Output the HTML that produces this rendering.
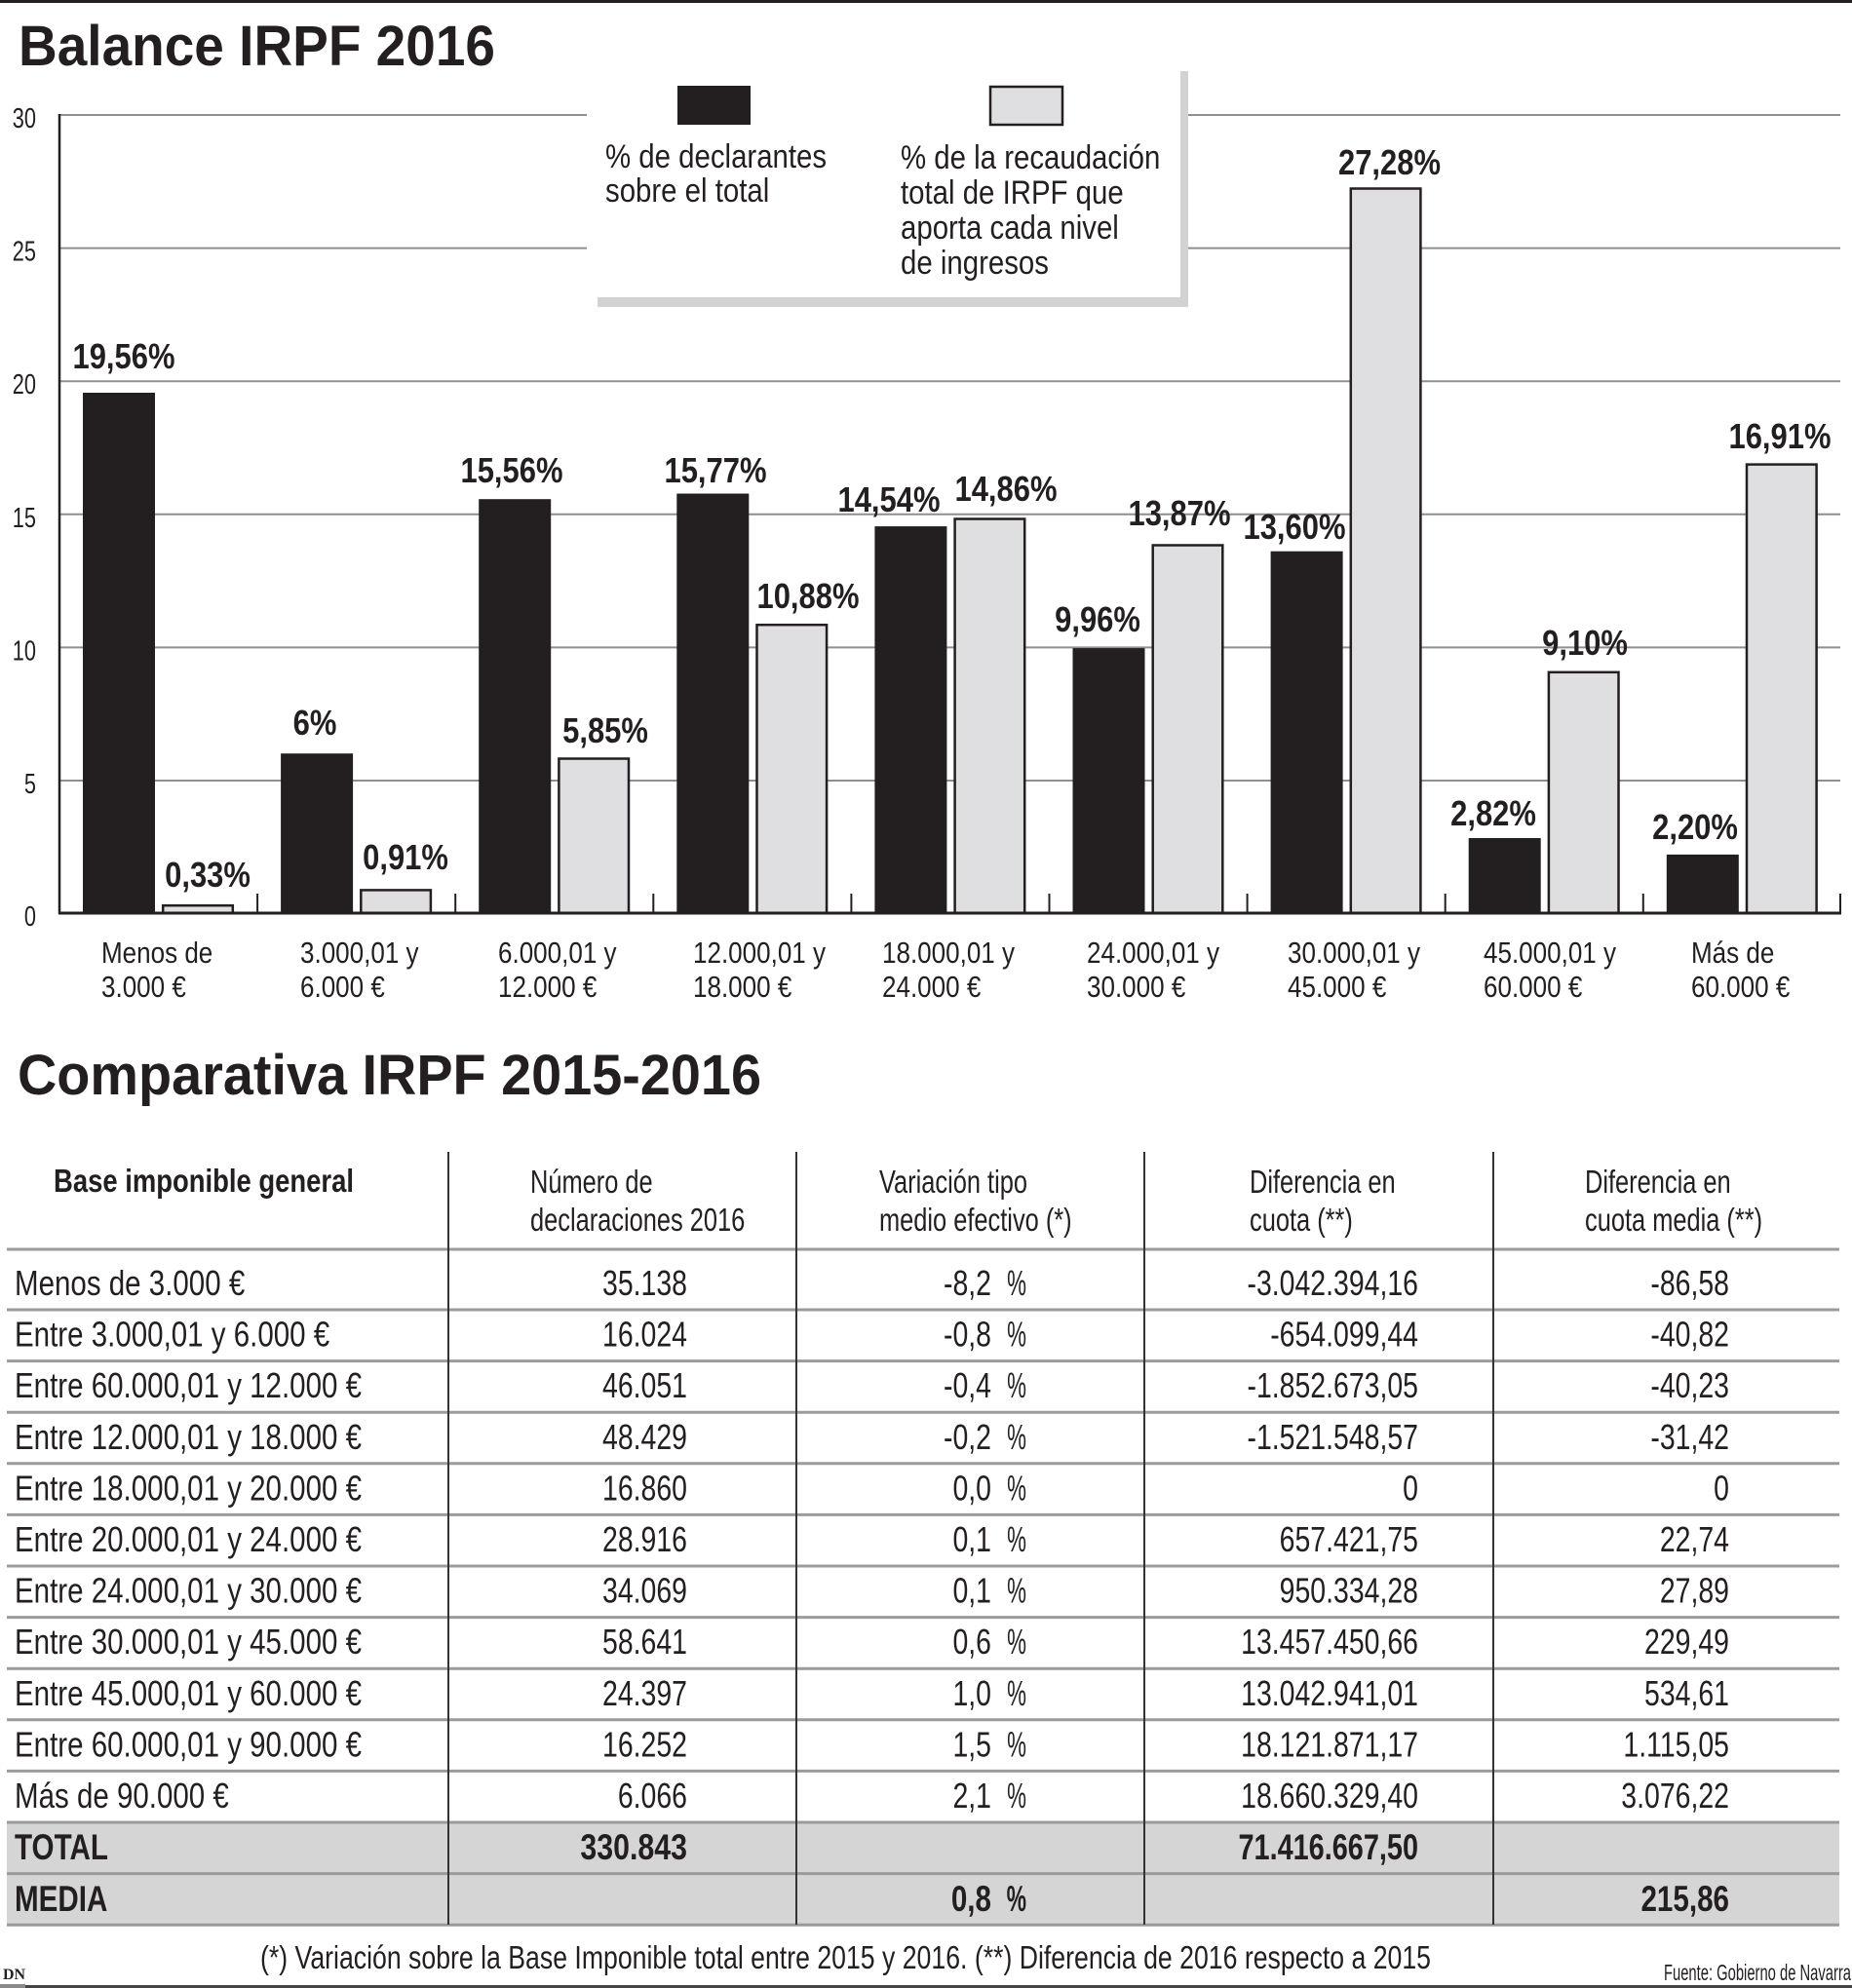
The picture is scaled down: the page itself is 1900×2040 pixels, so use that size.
<!DOCTYPE html>
<html>
<head>
<meta charset="utf-8">
<style>
html,body{margin:0;padding:0;background:#fff;}
svg{display:block;}
text{font-family:"Liberation Sans",sans-serif;fill:#231f20;}
.b{font-weight:bold;}
</style>
</head>
<body>
<svg width="1900" height="2040" viewBox="0 0 1900 2040" xmlns="http://www.w3.org/2000/svg">
<rect x="0" y="0" width="1900" height="2040" fill="#fff"/>
<rect x="0" y="0" width="1900" height="3" fill="#231f20"/>

<!-- Title 1 -->
<text class="b" x="19" y="67" font-size="58" textLength="489" lengthAdjust="spacingAndGlyphs">Balance IRPF 2016</text>

<!-- gridlines -->
<g stroke="#8f8f8f" stroke-width="2">
<line x1="61" y1="118" x2="1888" y2="118"/>
<line x1="61" y1="254.6" x2="1888" y2="254.6"/>
<line x1="61" y1="391.2" x2="1888" y2="391.2"/>
<line x1="61" y1="527.8" x2="1888" y2="527.8"/>
<line x1="61" y1="664.4" x2="1888" y2="664.4"/>
<line x1="61" y1="801" x2="1888" y2="801"/>
</g>

<!-- y tick labels -->
<g font-size="29" text-anchor="end">
<text transform="translate(37 131) scale(0.75 1)">30</text>
<text transform="translate(37 267.6) scale(0.75 1)">25</text>
<text transform="translate(37 404.2) scale(0.75 1)">20</text>
<text transform="translate(37 540.8) scale(0.75 1)">15</text>
<text transform="translate(37 677.4) scale(0.75 1)">10</text>
<text transform="translate(37 814) scale(0.75 1)">5</text>
<text transform="translate(37 950) scale(0.75 1)">0</text>
</g>

<!-- legend -->
<rect x="613" y="73" width="606" height="242" fill="#d2d2d3"/>
<rect x="602" y="62" width="609" height="243" fill="#fff"/>
<rect x="695" y="88" width="75" height="40" fill="#231f20"/>
<rect x="1016" y="89" width="74" height="39" fill="#dfdfe1" stroke="#231f20" stroke-width="2.5"/>
<g font-size="34">
<text transform="translate(621 172) scale(0.865 1)">% de declarantes</text>
<text transform="translate(621 207) scale(0.865 1)">sobre el total</text>
<text transform="translate(924 173) scale(0.865 1)">% de la recaudación</text>
<text transform="translate(924 209) scale(0.865 1)">total de IRPF que</text>
<text transform="translate(924 245) scale(0.865 1)">aporta cada nivel</text>
<text transform="translate(924 281) scale(0.865 1)">de ingresos</text>
</g>

<!-- bars -->
<g fill="#231f20">
<rect x="85" y="403" width="74" height="534"/>
<rect x="288.1" y="773.2" width="74" height="163.8"/>
<rect x="491.2" y="512.2" width="74" height="424.8"/>
<rect x="694.3" y="506.5" width="74" height="430.5"/>
<rect x="897.4" y="540.1" width="74" height="396.9"/>
<rect x="1100.5" y="665.1" width="74" height="271.9"/>
<rect x="1303.6" y="565.7" width="74" height="371.3"/>
<rect x="1506.7" y="860" width="74" height="77"/>
<rect x="1709.8" y="876.9" width="74" height="60.1"/>
</g>
<g fill="#dfdfe1" stroke="#231f20" stroke-width="2.5">
<rect x="167.2" y="929.2" width="71.6" height="7.8"/>
<rect x="370.3" y="913.4" width="71.6" height="23.6"/>
<rect x="573.4" y="778.5" width="71.6" height="158.5"/>
<rect x="776.5" y="641.2" width="71.6" height="295.8"/>
<rect x="979.6" y="532.5" width="71.6" height="404.5"/>
<rect x="1182.7" y="559.5" width="71.6" height="377.5"/>
<rect x="1385.8" y="193.5" width="71.6" height="743.5"/>
<rect x="1588.9" y="689.8" width="71.6" height="247.2"/>
<rect x="1792" y="476.6" width="71.6" height="460.4"/>
</g>

<!-- axes -->
<line x1="61" y1="117" x2="61" y2="938" stroke="#231f20" stroke-width="2.5"/>
<line x1="60" y1="937" x2="1889" y2="937" stroke="#231f20" stroke-width="3"/>
<g stroke="#231f20" stroke-width="2">
<line x1="264.1" y1="917" x2="264.1" y2="937"/>
<line x1="467.2" y1="917" x2="467.2" y2="937"/>
<line x1="670.3" y1="917" x2="670.3" y2="937"/>
<line x1="873.4" y1="917" x2="873.4" y2="937"/>
<line x1="1076.5" y1="917" x2="1076.5" y2="937"/>
<line x1="1279.6" y1="917" x2="1279.6" y2="937"/>
<line x1="1482.7" y1="917" x2="1482.7" y2="937"/>
<line x1="1685.8" y1="917" x2="1685.8" y2="937"/>
<line x1="1888" y1="917" x2="1888" y2="937"/>
</g>

<!-- bar labels -->
<g class="b" font-size="36" text-anchor="middle">
<text transform="translate(127 378) scale(0.86 1)">19,56%</text>
<text transform="translate(213 910) scale(0.86 1)">0,33%</text>
<text transform="translate(323 754) scale(0.86 1)">6%</text>
<text transform="translate(416 892) scale(0.86 1)">0,91%</text>
<text transform="translate(525 495) scale(0.86 1)">15,56%</text>
<text transform="translate(621 762) scale(0.86 1)">5,85%</text>
<text transform="translate(734 495) scale(0.86 1)">15,77%</text>
<text transform="translate(829 624) scale(0.86 1)">10,88%</text>
<text transform="translate(912 525) scale(0.86 1)">14,54%</text>
<text transform="translate(1032 514) scale(0.86 1)">14,86%</text>
<text transform="translate(1126 648) scale(0.86 1)">9,96%</text>
<text transform="translate(1210 539) scale(0.86 1)">13,87%</text>
<text transform="translate(1328 553) scale(0.86 1)">13,60%</text>
<text transform="translate(1425.5 179) scale(0.86 1)">27,28%</text>
<text transform="translate(1532 847) scale(0.86 1)">2,82%</text>
<text transform="translate(1626 672) scale(0.86 1)">9,10%</text>
<text transform="translate(1739 861) scale(0.86 1)">2,20%</text>
<text transform="translate(1826 460) scale(0.86 1)">16,91%</text>
</g>

<!-- category labels -->
<g font-size="31">
<text transform="translate(104 988) scale(0.84 1)">Menos de</text>
<text transform="translate(104 1023) scale(0.84 1)">3.000 €</text>
<text transform="translate(308 988) scale(0.84 1)">3.000,01 y</text>
<text transform="translate(308 1023) scale(0.84 1)">6.000 €</text>
<text transform="translate(511 988) scale(0.84 1)">6.000,01 y</text>
<text transform="translate(511 1023) scale(0.84 1)">12.000 €</text>
<text transform="translate(711 988) scale(0.84 1)">12.000,01 y</text>
<text transform="translate(711 1023) scale(0.84 1)">18.000 €</text>
<text transform="translate(905 988) scale(0.84 1)">18.000,01 y</text>
<text transform="translate(905 1023) scale(0.84 1)">24.000 €</text>
<text transform="translate(1115 988) scale(0.84 1)">24.000,01 y</text>
<text transform="translate(1115 1023) scale(0.84 1)">30.000 €</text>
<text transform="translate(1321 988) scale(0.84 1)">30.000,01 y</text>
<text transform="translate(1321 1023) scale(0.84 1)">45.000 €</text>
<text transform="translate(1522 988) scale(0.84 1)">45.000,01 y</text>
<text transform="translate(1522 1023) scale(0.84 1)">60.000 €</text>
<text transform="translate(1735 988) scale(0.84 1)">Más de</text>
<text transform="translate(1735 1023) scale(0.84 1)">60.000 €</text>
</g>

<!-- Title 2 -->
<text class="b" x="18" y="1123" font-size="58" textLength="763" lengthAdjust="spacingAndGlyphs">Comparativa IRPF 2015-2016</text>

<!-- table backgrounds -->
<rect x="7" y="1870" width="1880" height="52.6" fill="#d5d5d6"/>
<rect x="7" y="1922.6" width="1880" height="52.6" fill="#d5d5d6"/>

<!-- table horizontal lines -->
<g stroke="#9b9b9b" stroke-width="3">
<line x1="7" y1="1282" x2="1887" y2="1282"/>
<line x1="7" y1="1344" x2="1887" y2="1344"/>
<line x1="7" y1="1396.6" x2="1887" y2="1396.6"/>
<line x1="7" y1="1449.2" x2="1887" y2="1449.2"/>
<line x1="7" y1="1501.8" x2="1887" y2="1501.8"/>
<line x1="7" y1="1554.4" x2="1887" y2="1554.4"/>
<line x1="7" y1="1607" x2="1887" y2="1607"/>
<line x1="7" y1="1659.6" x2="1887" y2="1659.6"/>
<line x1="7" y1="1712.2" x2="1887" y2="1712.2"/>
<line x1="7" y1="1764.8" x2="1887" y2="1764.8"/>
<line x1="7" y1="1817.4" x2="1887" y2="1817.4"/>
<line x1="7" y1="1870" x2="1887" y2="1870"/>
<line x1="7" y1="1922.6" x2="1887" y2="1922.6"/>
<line x1="7" y1="1975.2" x2="1887" y2="1975.2"/>
</g>
<!-- table vertical lines -->
<g stroke="#333" stroke-width="2">
<line x1="460" y1="1182" x2="460" y2="1975"/>
<line x1="817" y1="1182" x2="817" y2="1975"/>
<line x1="1174" y1="1182" x2="1174" y2="1975"/>
<line x1="1532" y1="1182" x2="1532" y2="1975"/>
</g>

<!-- header -->
<text class="b" x="55" y="1223" font-size="33" textLength="308" lengthAdjust="spacingAndGlyphs">Base imponible general</text>
<g font-size="33">
<text transform="translate(544 1224) scale(0.77 1)">Número de</text>
<text transform="translate(544 1263) scale(0.77 1)">declaraciones 2016</text>
<text transform="translate(902 1224) scale(0.77 1)">Variación tipo</text>
<text transform="translate(902 1263) scale(0.77 1)">medio efectivo (*)</text>
<text transform="translate(1282 1224) scale(0.77 1)">Diferencia en</text>
<text transform="translate(1282 1263) scale(0.77 1)">cuota (**)</text>
<text transform="translate(1626 1224) scale(0.77 1)">Diferencia en</text>
<text transform="translate(1626 1263) scale(0.77 1)">cuota media (**)</text>
</g>

<!-- row labels -->
<g font-size="36">
<text transform="translate(15 1329) scale(0.82 1)">Menos de 3.000 €</text>
<text transform="translate(15 1381.6) scale(0.82 1)">Entre 3.000,01 y 6.000 €</text>
<text transform="translate(15 1434.2) scale(0.82 1)">Entre 60.000,01 y 12.000 €</text>
<text transform="translate(15 1486.8) scale(0.82 1)">Entre 12.000,01 y 18.000 €</text>
<text transform="translate(15 1539.4) scale(0.82 1)">Entre 18.000,01 y 20.000 €</text>
<text transform="translate(15 1592) scale(0.82 1)">Entre 20.000,01 y 24.000 €</text>
<text transform="translate(15 1644.6) scale(0.82 1)">Entre 24.000,01 y 30.000 €</text>
<text transform="translate(15 1697.2) scale(0.82 1)">Entre 30.000,01 y 45.000 €</text>
<text transform="translate(15 1749.8) scale(0.82 1)">Entre 45.000,01 y 60.000 €</text>
<text transform="translate(15 1802.4) scale(0.82 1)">Entre 60.000,01 y 90.000 €</text>
<text transform="translate(15 1855) scale(0.82 1)">Más de 90.000 €</text>
</g>

<!-- numbers -->
<g font-size="36" text-anchor="end">
<!-- col 2 -->
<text transform="translate(705 1329) scale(0.79 1)">35.138</text>
<text transform="translate(705 1381.6) scale(0.79 1)">16.024</text>
<text transform="translate(705 1434.2) scale(0.79 1)">46.051</text>
<text transform="translate(705 1486.8) scale(0.79 1)">48.429</text>
<text transform="translate(705 1539.4) scale(0.79 1)">16.860</text>
<text transform="translate(705 1592) scale(0.79 1)">28.916</text>
<text transform="translate(705 1644.6) scale(0.79 1)">34.069</text>
<text transform="translate(705 1697.2) scale(0.79 1)">58.641</text>
<text transform="translate(705 1749.8) scale(0.79 1)">24.397</text>
<text transform="translate(705 1802.4) scale(0.79 1)">16.252</text>
<text transform="translate(705 1855) scale(0.79 1)">6.066</text>
<!-- col 3 -->
<text transform="translate(1017 1329) scale(0.79 1)">-8,2</text>
<text transform="translate(1017 1381.6) scale(0.79 1)">-0,8</text>
<text transform="translate(1017 1434.2) scale(0.79 1)">-0,4</text>
<text transform="translate(1017 1486.8) scale(0.79 1)">-0,2</text>
<text transform="translate(1017 1539.4) scale(0.79 1)">0,0</text>
<text transform="translate(1017 1592) scale(0.79 1)">0,1</text>
<text transform="translate(1017 1644.6) scale(0.79 1)">0,1</text>
<text transform="translate(1017 1697.2) scale(0.79 1)">0,6</text>
<text transform="translate(1017 1749.8) scale(0.79 1)">1,0</text>
<text transform="translate(1017 1802.4) scale(0.79 1)">1,5</text>
<text transform="translate(1017 1855) scale(0.79 1)">2,1</text>
<text transform="translate(1053 1329) scale(0.62 1)">%</text>
<text transform="translate(1053 1381.6) scale(0.62 1)">%</text>
<text transform="translate(1053 1434.2) scale(0.62 1)">%</text>
<text transform="translate(1053 1486.8) scale(0.62 1)">%</text>
<text transform="translate(1053 1539.4) scale(0.62 1)">%</text>
<text transform="translate(1053 1592) scale(0.62 1)">%</text>
<text transform="translate(1053 1644.6) scale(0.62 1)">%</text>
<text transform="translate(1053 1697.2) scale(0.62 1)">%</text>
<text transform="translate(1053 1749.8) scale(0.62 1)">%</text>
<text transform="translate(1053 1802.4) scale(0.62 1)">%</text>
<text transform="translate(1053 1855) scale(0.62 1)">%</text>
<!-- col 4 -->
<text transform="translate(1455 1329) scale(0.79 1)">-3.042.394,16</text>
<text transform="translate(1455 1381.6) scale(0.79 1)">-654.099,44</text>
<text transform="translate(1455 1434.2) scale(0.79 1)">-1.852.673,05</text>
<text transform="translate(1455 1486.8) scale(0.79 1)">-1.521.548,57</text>
<text transform="translate(1455 1539.4) scale(0.79 1)">0</text>
<text transform="translate(1455 1592) scale(0.79 1)">657.421,75</text>
<text transform="translate(1455 1644.6) scale(0.79 1)">950.334,28</text>
<text transform="translate(1455 1697.2) scale(0.79 1)">13.457.450,66</text>
<text transform="translate(1455 1749.8) scale(0.79 1)">13.042.941,01</text>
<text transform="translate(1455 1802.4) scale(0.79 1)">18.121.871,17</text>
<text transform="translate(1455 1855) scale(0.79 1)">18.660.329,40</text>
<!-- col 5 -->
<text transform="translate(1774 1329) scale(0.79 1)">-86,58</text>
<text transform="translate(1774 1381.6) scale(0.79 1)">-40,82</text>
<text transform="translate(1774 1434.2) scale(0.79 1)">-40,23</text>
<text transform="translate(1774 1486.8) scale(0.79 1)">-31,42</text>
<text transform="translate(1774 1539.4) scale(0.79 1)">0</text>
<text transform="translate(1774 1592) scale(0.79 1)">22,74</text>
<text transform="translate(1774 1644.6) scale(0.79 1)">27,89</text>
<text transform="translate(1774 1697.2) scale(0.79 1)">229,49</text>
<text transform="translate(1774 1749.8) scale(0.79 1)">534,61</text>
<text transform="translate(1774 1802.4) scale(0.79 1)">1.115,05</text>
<text transform="translate(1774 1855) scale(0.79 1)">3.076,22</text>
</g>

<!-- total / media -->
<g class="b" font-size="37">
<text transform="translate(15 1908) scale(0.8 1)">TOTAL</text>
<text transform="translate(15 1961) scale(0.8 1)">MEDIA</text>
</g>
<g class="b" font-size="37" text-anchor="end">
<text transform="translate(705 1908) scale(0.82 1)">330.843</text>
<text transform="translate(1455 1908) scale(0.78 1)">71.416.667,50</text>
<text transform="translate(1017 1961) scale(0.8 1)">0,8</text>
<text transform="translate(1053 1961) scale(0.62 1)">%</text>
<text transform="translate(1774 1961) scale(0.8 1)">215,86</text>
</g>

<!-- footer -->
<text x="267" y="2020" font-size="33" textLength="1201" lengthAdjust="spacingAndGlyphs">(*) Variación sobre la Base Imponible total entre 2015 y 2016. (**) Diferencia de 2016 respecto a 2015</text>
<text x="1707" y="2032" font-size="23" textLength="192" lengthAdjust="spacingAndGlyphs">Fuente: Gobierno de Navarra</text>
<text x="3" y="2031" font-size="16" font-weight="bold" style="font-family:'Liberation Serif',serif" textLength="23" lengthAdjust="spacingAndGlyphs">DN</text>
<rect x="0" y="2036" width="26" height="4" fill="#8a8a8a"/>
<rect x="26" y="2037" width="1874" height="3" fill="#444"/>
</svg>
</body>
</html>
